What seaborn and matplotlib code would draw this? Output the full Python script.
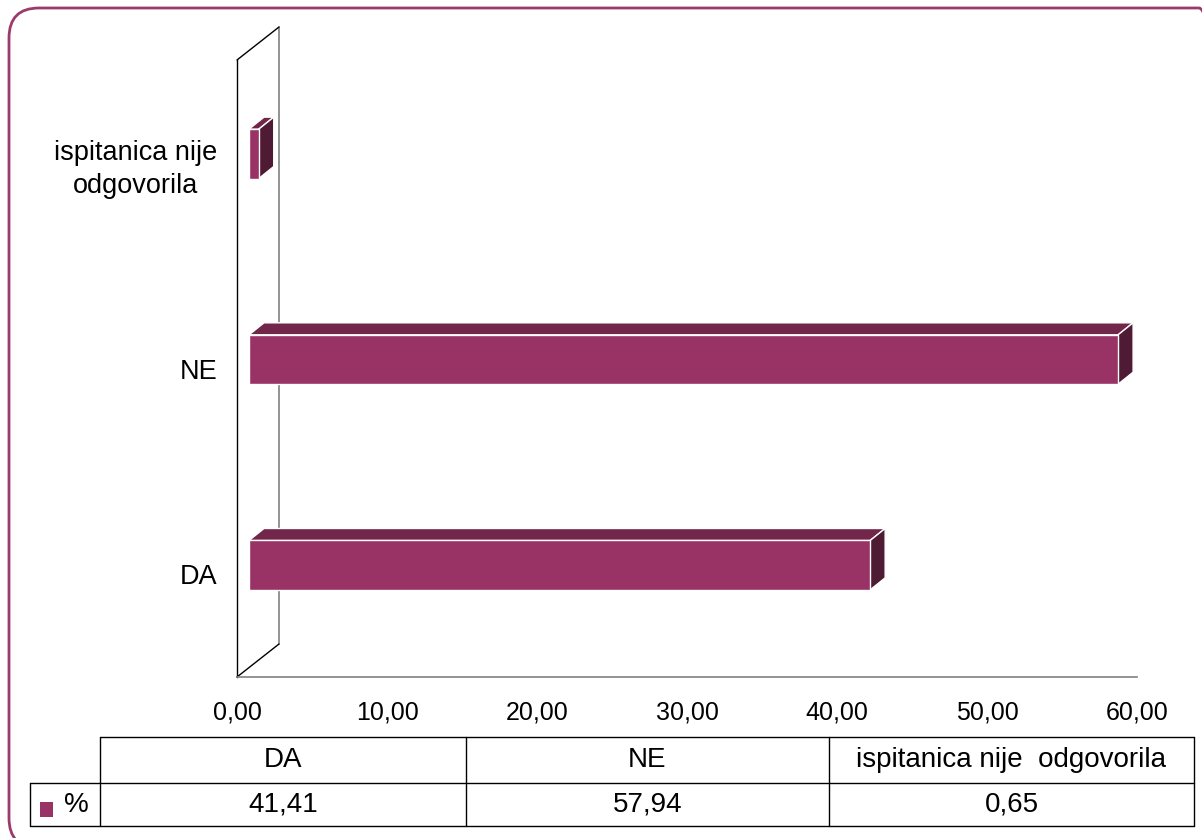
import numpy as np
import pandas as pd
import matplotlib
matplotlib.use("Agg")
import matplotlib.pyplot as plt
import seaborn as sns
from matplotlib.patches import Polygon, FancyBboxPatch, Rectangle
from matplotlib.lines import Line2D
from matplotlib.transforms import offset_copy

# --- data ---
categories = ["DA", "NE", "ispitanica nije odgovorila"]
axis_labels = ["DA", "NE", "ispitanica nije\nodgovorila"]
table_headers = ["DA", "NE", "ispitanica nije  odgovorila"]
percent = [41.41, 57.94, 0.65]
series_name = "%"
x_ticks = [0, 10, 20, 30, 40, 50, 60]

front_col = "#993366"
top_col = "#72264a"
side_col = "#4f1a33"
border_col = "#9b3a6b"

sns.set_theme(style="white")
plt.rcParams["font.family"] = ["Liberation Sans", "DejaVu Sans"]
plt.rcParams["text.color"] = "black"
plt.rcParams["xtick.color"] = "black"
plt.rcParams["ytick.color"] = "black"

W, H = 1202, 838
fig = plt.figure(figsize=(W / 100, H / 100), dpi=100)


def fx(px):
    return px / W


def fy(py):
    return (H - py) / H


# axes placement in pixels (front plane)
ax_l, ax_r, ax_t, ax_b = 237, 1137, 60, 677
ax = fig.add_axes([fx(ax_l), fy(ax_b), (ax_r - ax_l) / W, (ax_b - ax_t) / H])

df = pd.DataFrame({"kategorija": categories, "pct": percent})
order = categories[::-1]  # top to bottom
sns.barplot(data=df, x="pct", y="kategorija", order=order, orient="h",
            width=0.24, color=front_col, saturation=1, edgecolor="white",
            linewidth=1, ax=ax, zorder=3)

ax.set_xlim(0, 60)
ax.set_ylim(2.5, -0.5)

px_x = (ax_r - ax_l) / 60.0
px_y = (ax_b - ax_t) / 3.0

# 3D look: front face pushed into depth, plus top and side faces
front_tr = offset_copy(ax.transData, fig=fig, x=12, y=9, units="dots")
ddx = 15 / px_x
ddy = -12 / px_y
for p in list(ax.patches):
    p.set_transform(front_tr)
    p.set_clip_on(False)
    x0, x1 = p.get_x(), p.get_x() + p.get_width()
    yt, yb = p.get_y(), p.get_y() + p.get_height()
    top = Polygon([(x0, yt), (x1, yt), (x1 + ddx, yt + ddy), (x0 + ddx, yt + ddy)],
                  closed=True, facecolor=top_col, edgecolor="white", lw=1,
                  transform=front_tr, clip_on=False, zorder=2)
    side = Polygon([(x1, yt), (x1, yb), (x1 + ddx, yb + ddy), (x1 + ddx, yt + ddy)],
                   closed=True, facecolor=side_col, edgecolor="white", lw=1,
                   transform=front_tr, clip_on=False, zorder=2)
    ax.add_patch(top)
    ax.add_patch(side)

# side wall
wdx = 42 / px_x
wdy = -33 / px_y
ax.plot([wdx, wdx], [-0.5 + wdy, 2.5 + wdy], color="#808080", lw=1.2, clip_on=False, zorder=1)
ax.plot([0, wdx], [-0.5, -0.5 + wdy], color="black", lw=1, clip_on=False, zorder=1)
ax.plot([0, wdx], [2.5, 2.5 + wdy], color="black", lw=1, clip_on=False, zorder=1)

# spines and ticks
for s in ["top", "right"]:
    ax.spines[s].set_visible(False)
ax.spines["left"].set_color("black")
ax.spines["left"].set_linewidth(1)
ax.spines["bottom"].set_color("#808080")
ax.spines["bottom"].set_linewidth(1.2)

ax.set_xticks(x_ticks)
ax.set_xticklabels([f"{t:.2f}".replace(".", ",") for t in x_ticks], fontsize=18)
ax.tick_params(axis="x", direction="out", length=8, width=1, color="#808080", pad=9)

ax.set_yticks(range(3))
ax.set_yticklabels(axis_labels[::-1], fontsize=19.5, ha="right",
                   multialignment="center", linespacing=1.35)
ax.tick_params(axis="y", length=0, pad=14)
ax.set_yticks([-0.5, 0.5, 1.5, 2.5], minor=True)
ax.tick_params(axis="y", which="minor", direction="out", length=8.5, width=1, color="black")
ax.set_xlabel("")
ax.set_ylabel("")
ax.grid(False)

# data table below the axes (pixel layout)
key_x0 = 30
col_edges = [100, 466, 829, 1194]
row_edges = [737, 783, 826]
line_kw = dict(color="black", lw=1)
fig.add_artist(Line2D([fx(col_edges[0]), fx(col_edges[-1])], [fy(row_edges[0])] * 2, **line_kw))
for ry in row_edges[1:]:
    fig.add_artist(Line2D([fx(key_x0), fx(col_edges[-1])], [fy(ry)] * 2, **line_kw))
for cx in col_edges:
    fig.add_artist(Line2D([fx(cx)] * 2, [fy(row_edges[0]), fy(row_edges[2])], **line_kw))
fig.add_artist(Line2D([fx(key_x0)] * 2, [fy(row_edges[1]), fy(row_edges[2])], **line_kw))

for i, (hdr, val) in enumerate(zip(table_headers, percent)):
    cx = (col_edges[i] + col_edges[i + 1]) / 2
    fig.text(fx(cx), fy((row_edges[0] + row_edges[1]) / 2), hdr,
             ha="center", va="center", fontsize=20)
    fig.text(fx(cx), fy((row_edges[1] + row_edges[2]) / 2), f"{val:.2f}".replace(".", ","),
             ha="center", va="center", fontsize=20)

# legend key in the row label
fig.add_artist(Rectangle((fx(40), fy(817)), 13 / W, 15 / H,
                         transform=fig.transFigure, facecolor=front_col, edgecolor="none"))
fig.text(fx(64), fy((row_edges[1] + row_edges[2]) / 2), series_name,
         ha="left", va="center", fontsize=20)

# rounded outer border
fig.add_artist(FancyBboxPatch((0.09, -0.1), 12.2, 8.4,
                              boxstyle="round,pad=0,rounding_size=0.3",
                              transform=fig.dpi_scale_trans, facecolor="none",
                              edgecolor=border_col, lw=2, zorder=0))

fig.savefig("out.png", dpi=100)
